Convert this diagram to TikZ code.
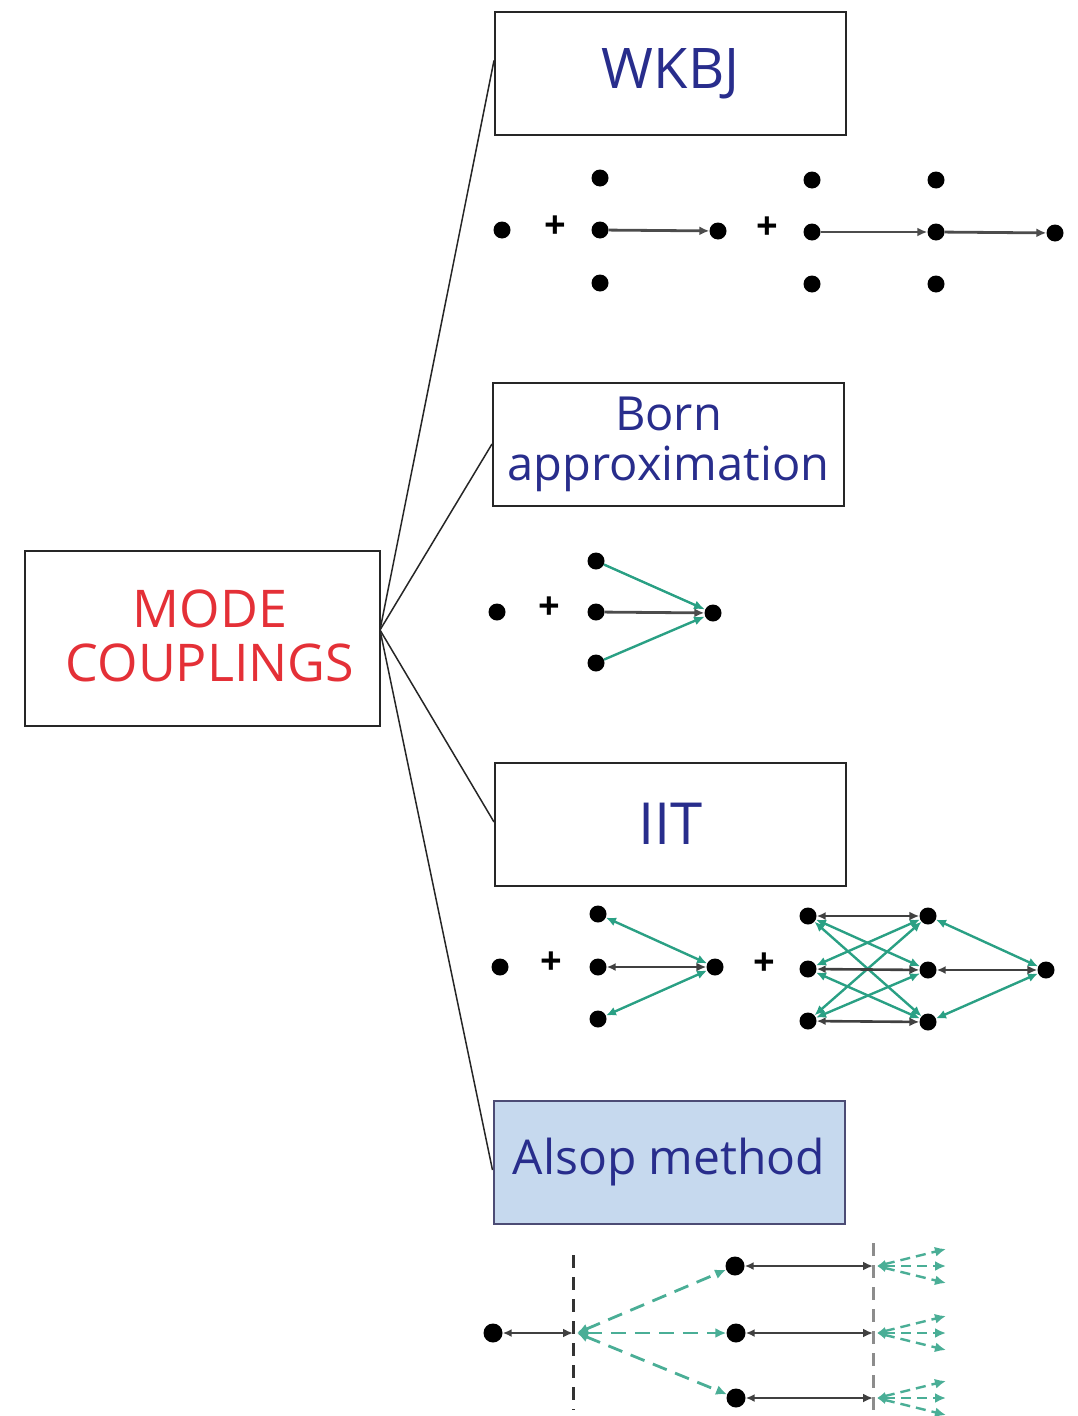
\documentclass[tikz,border=0pt]{standalone}
\usepackage{fontspec}
\setmainfont{Open Sans}
\usetikzlibrary{arrows.meta,calc}
\definecolor{txtblue}{RGB}{40,45,140}
\definecolor{txtred}{RGB}{228,48,55}
\definecolor{cgreen}{RGB}{42,160,132}
\definecolor{boxfill}{RGB}{198,217,238}
\begin{document}
\begin{tikzpicture}[x=1pt,y=-1pt,
  box/.style={draw=black!85, line width=2pt, minimum width=351pt, minimum height=123pt,
    inner sep=0pt, text=txtblue, align=center, font=\fontsize{47}{50}\selectfont},
  dot/.style={circle, fill=black, inner sep=0pt, minimum size=17pt},
  bigdot/.style={dot, minimum size=19pt},
  plus/.style={inner sep=0pt, font=\fontsize{38}{38}\selectfont\bfseries},
  ar/.style={-{Latex[length=10pt,width=9pt]}, line width=2.8pt, draw=black!70},
  dar/.style={{Latex[length=9pt,width=8pt]}-{Latex[length=10pt,width=9pt]}, line width=2.6pt, draw=black!75},
  gar/.style={-{Latex[length=11pt,width=9pt]}, line width=2.4pt, draw=cgreen},
  gdar/.style={{Latex[length=10pt,width=9pt]}-{Latex[length=10pt,width=9pt]}, line width=2.4pt, draw=cgreen},
  gdash/.style={{Latex[length=11pt,width=10pt]}-{Latex[length=11pt,width=10pt]}, line width=2.8pt, draw=cgreen!85, dash pattern=on 15pt off 9pt},
  gfan/.style={{Latex[length=9pt,width=8pt]}-{Latex[length=11pt,width=10pt]}, line width=2.4pt, draw=cgreen!85, dash pattern=on 10pt off 6pt},
  cut/.style={line width=3pt, dash pattern=on 13pt off 9pt},
  link/.style={line width=1.5pt, draw=black!85}]
\useasboundingbox (0,0) rectangle (1077,1416);

% central box and the four methods
\node[box, minimum width=355pt, minimum height=175pt] (mc) at (202.5,638.5) {};
\node[inner sep=0pt, align=center, text=txtred, font=\fontsize{52}{54}\selectfont]
  (mctext) at (210,636) {MODE\\COUPLINGS};
\node[box, font=\fontsize{56}{56}\selectfont] (wkbj) at (670.5,73.5) {WKBJ};
\node[box] (born) at (668.5,444) {Born\\approximation};
\node[box, font=\fontsize{58}{58}\selectfont] (iit) at (670.5,824) {IIT};
\node[box, fill=boxfill, draw=black!60!blue!40!gray, font=\fontsize{48}{48}\selectfont] (alsop) at (669,1162) {Alsop method};

\coordinate (hub) at (380,630);
\draw[link] (hub) -- ($(wkbj.west)+(0,-13)$);
\draw[link] (hub) -- (born.west);
\draw[link] (hub) -- ($(iit.west)+(0,-2)$);
\draw[link] (hub) -- ($(alsop.west)+(0,8)$);

% WKBJ: direct path, single and double scattering along the path
\node[dot] (w0) at (502,230) {};
\node[plus] (wp1) at (555,227) {+};
\node[dot] (w1t) at (600,178) {};
\node[dot] (w1m) at (600,230) {};
\node[dot] (w1b) at (600,283) {};
\node[dot] (w1e) at (718,231) {};
\node[plus] (wp2) at (767,228) {+};
\node[dot] (w2t) at (812,180) {};
\node[dot] (w2m) at (812,232) {};
\node[dot] (w2b) at (812,284) {};
\node[dot] (w3t) at (936,180) {};
\node[dot] (w3m) at (936,232) {};
\node[dot] (w3b) at (936,284) {};
\node[dot] (w4) at (1055,233) {};
\draw[ar] (w1m) -- (w1e);
\draw[ar] (w2m) -- (w3m);
\draw[ar] (w3m) -- (w4);

% Born approximation
\node[dot] (b0) at (497,612) {};
\node[plus] (bp) at (549,608) {+};
\node[dot] (bt) at (596,561) {};
\node[dot] (bm) at (596,612) {};
\node[dot] (bb) at (596,663) {};
\node[dot] (be) at (713,613) {};
\draw[ar] (bm) -- (be);
\draw[gar] (bt) -- (be);
\draw[gar] (bb) -- (be);

% IIT
\node[dot] (i0) at (500,967) {};
\node[plus] (ip1) at (551,963) {+};
\node[dot] (it) at (598,914) {};
\node[dot] (im) at (598,967) {};
\node[dot] (ib) at (598,1019) {};
\node[dot] (ie) at (715,967) {};
\draw[dar] (im) -- (ie);
\draw[gdar] (it) -- (ie);
\draw[gdar] (ib) -- (ie);
\node[plus] (ip2) at (764,964) {+};
\node[dot] (l1) at (808,916) {};
\node[dot] (l2) at (808,969) {};
\node[dot] (l3) at (808,1021) {};
\node[dot] (r1) at (928,916) {};
\node[dot] (r2) at (928,970) {};
\node[dot] (r3) at (928,1022) {};
\node[dot] (ie2) at (1046,970) {};
\foreach \a/\b in {l1/r2,l1/r3,l2/r1,l2/r3,l3/r1,l3/r2}
  \draw[gdar] (\a) -- (\b);
\draw[dar] (l1) -- (r1);
\draw[dar] (l2) -- (r2);
\draw[dar] (l3) -- (r3);
\draw[gdar] (r1) -- (ie2);
\draw[gdar] (r3) -- (ie2);
\draw[dar] (r2) -- (ie2);

% Alsop method
\draw[cut, draw=black!80] (573,1255) -- (573,1410);
\draw[cut, draw=black!45] (873,1243) -- (873,1410);
\node[bigdot] (a0) at (493,1333) {};
\coordinate (c0) at (573,1333);
\coordinate (g0) at (577,1333);
\node[bigdot] (a1) at (735,1266) {};
\node[bigdot] (a2) at (736,1333) {};
\node[bigdot] (a3) at (736,1398) {};
\draw[dar] (a0) -- (c0);
\draw[gdash] (g0) -- (a1);
\draw[gdash] (g0) -- (a2);
\draw[gdash] (g0) -- (a3);
\foreach \n/\y in {1/1266,2/1333,3/1398} {
  \coordinate (c\n) at (873,\y);
  \coordinate (f\n) at (877,\y);
  \draw[dar] (a\n) -- (c\n);
  \foreach \d [count=\k] in {-17,0,17} {
    \coordinate (t\n\k) at (946,\y+\d);
    \draw[gfan] (f\n) -- (t\n\k);
  }
}
\end{tikzpicture}
\end{document}
